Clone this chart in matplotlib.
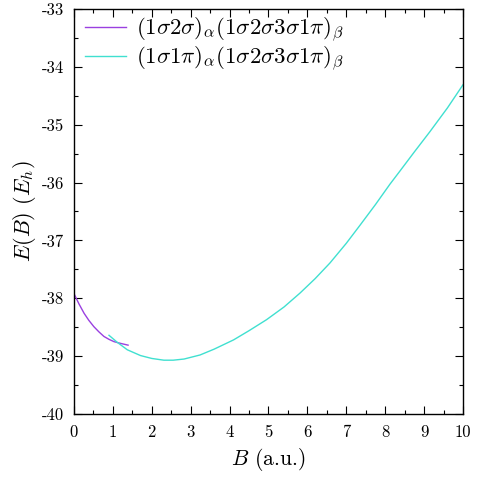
import numpy as np
import matplotlib.pyplot as plt
from matplotlib.ticker import MultipleLocator

plt.rcParams['font.family'] = 'cmr10'
plt.rcParams['mathtext.fontset'] = 'cm'
plt.rcParams['axes.unicode_minus'] = False
plt.rcParams['axes.formatter.use_mathtext'] = False

# purple branch
b_alpha = [0.0, 0.13, 0.26, 0.38, 0.51, 0.64, 0.77, 0.90, 1.03, 1.20, 1.39]
e_alpha = [-37.92, -38.10, -38.26, -38.38, -38.49, -38.58, -38.66, -38.71, -38.75, -38.78, -38.81]

# cyan branch
b_beta = [0.90, 1.11, 1.37, 1.71, 2.0, 2.31, 2.55, 2.83, 3.24, 3.6, 4.10, 4.5, 4.95,
          5.4, 5.81, 6.2, 6.58, 7.0, 7.35, 7.75, 8.12, 8.38, 8.75, 9.15, 9.6, 10.0]
e_beta = [-38.64, -38.76, -38.89, -38.99, -39.04, -39.07, -39.07, -39.05, -38.98, -38.88,
          -38.72, -38.56, -38.37, -38.15, -37.91, -37.66, -37.39, -37.05, -36.74, -36.38,
          -36.03, -35.80, -35.47, -35.12, -34.71, -34.31]

label_alpha = r'$(1\sigma2\sigma)_\alpha(1\sigma2\sigma3\sigma1\pi)_\beta$'
label_beta = r'$(1\sigma1\pi)_\alpha(1\sigma2\sigma3\sigma1\pi)_\beta$'

fig = plt.figure(figsize=(4.78, 4.78), dpi=100)
ax = fig.add_axes([0.1548, 0.1339, 0.8138, 0.8473])

ax.plot(b_alpha, e_alpha, color='#9a40e0', lw=1.0, label=label_alpha)
ax.plot(b_beta, e_beta, color='#40e0d0', lw=1.0, label=label_beta)

ax.set_xlim(0, 10)
ax.set_ylim(-40, -33)
ax.xaxis.set_major_locator(MultipleLocator(1))
ax.xaxis.set_minor_locator(MultipleLocator(0.5))
ax.yaxis.set_major_locator(MultipleLocator(1))
ax.yaxis.set_minor_locator(MultipleLocator(0.5))
ax.tick_params(which='both', direction='in', top=True, right=True, labelsize=12)
ax.tick_params(which='major', length=6, width=0.8)
ax.tick_params(which='minor', length=3, width=0.8)
ax.tick_params(axis='x', pad=8)
ax.tick_params(axis='y', pad=7)
for s in ax.spines.values():
    s.set_linewidth(1.0)

ax.set_xlabel(r'$B$ (a.u.)', fontsize=15.5, labelpad=4)
ax.set_ylabel(r'$E(B)$ $(E_h)$', fontsize=16, labelpad=3)

ax.legend(loc='upper left', bbox_to_anchor=(0.0, 1.012), frameon=False,
          fontsize=16.5, handlelength=1.75, borderaxespad=0.1,
          labelspacing=0.0, handletextpad=0.45)

fig.savefig('out.png', dpi=100)
